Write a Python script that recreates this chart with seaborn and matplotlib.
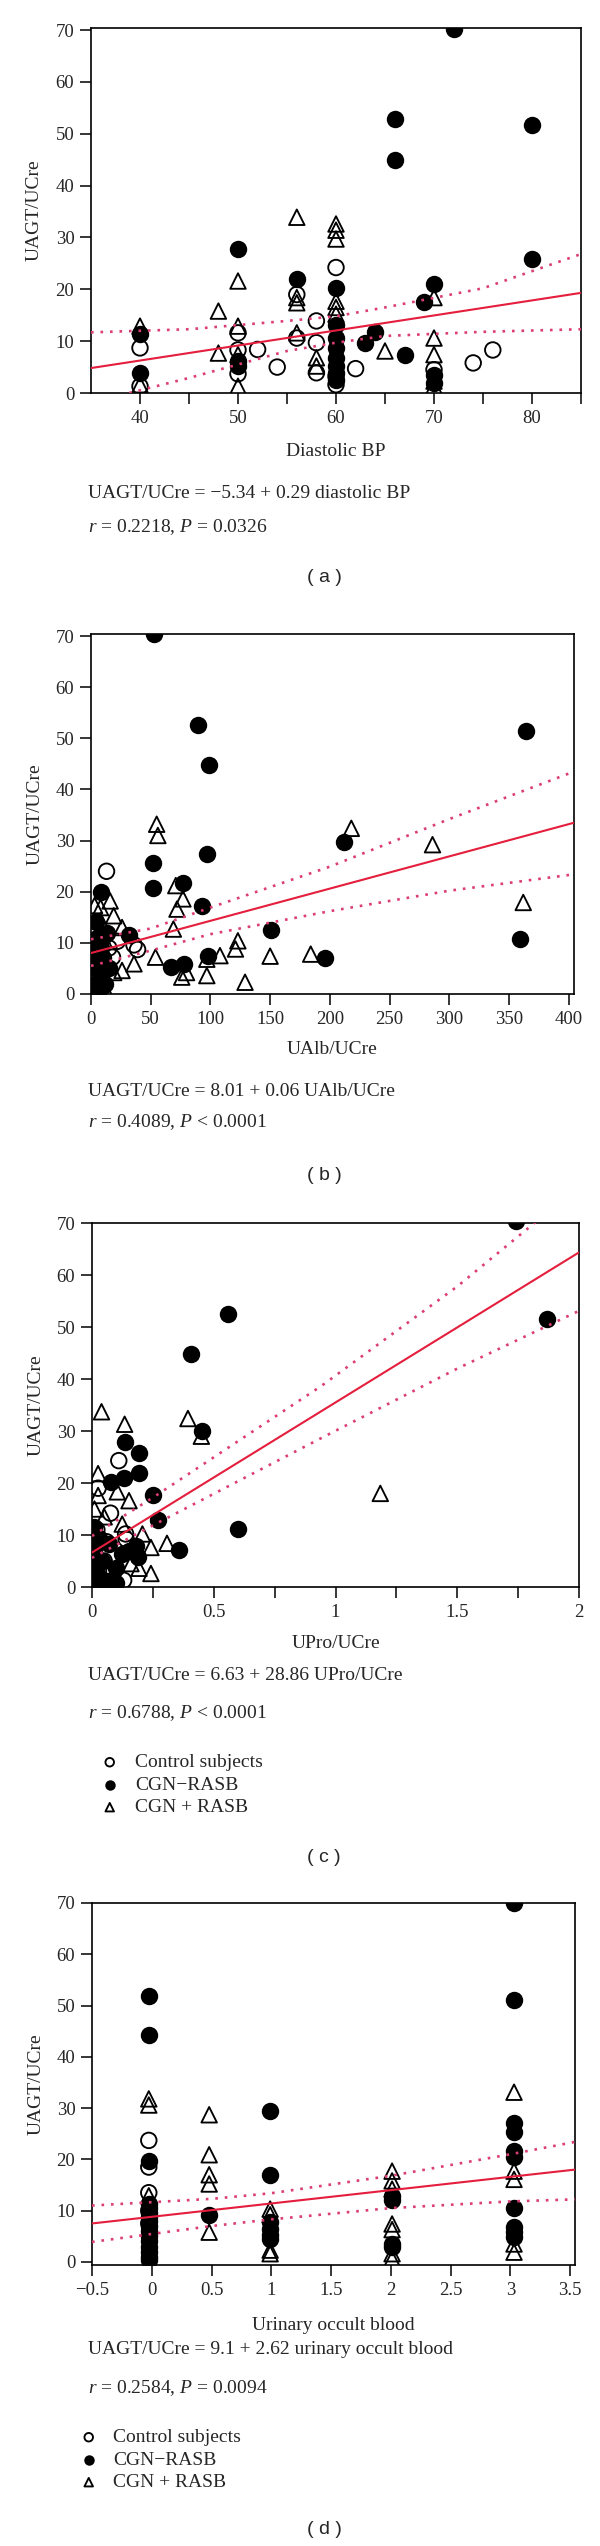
import numpy as np
import pandas as pd
import seaborn as sns
import matplotlib.pyplot as plt

# ---------------- data ----------------
GROUPS = ["Control subjects", "CGN\u2212RASB", "CGN + RASB"]

# (a) diastolic BP
a_ctrl_x = [40, 40, 50, 50, 50, 52, 54, 56, 56, 58, 58, 58, 60, 60, 60, 62, 70, 74, 76]
a_ctrl_y = [8.7, 1.3, 11.6, 8.3, 3.7, 8.4, 5.0, 19.0, 10.6, 13.9, 9.7, 3.9, 24.2, 3.2, 1.6, 4.7, 4.5, 5.8, 8.3]
a_minus_x = [72, 66, 66, 80, 80, 50, 56, 60, 70, 69, 64, 63, 67, 40, 40, 50, 50,
             60, 60, 60, 60, 60, 60, 60, 70, 70]
a_minus_y = [70.3, 52.8, 45.0, 51.7, 25.9, 27.8, 22.0, 20.2, 21.0, 17.5, 11.8, 9.6, 7.3, 11.3, 3.8, 6.1, 5.2,
             13.1, 10.6, 8.7, 6.8, 5.2, 3.8, 2.5, 3.5, 2.0]
a_plus_x = [56, 60, 60, 60, 50, 48, 48, 40, 50, 50, 50, 56, 56, 56, 58, 58, 60, 60, 60, 65,
            70, 70, 70, 70, 70, 40]
a_plus_y = [33.9, 32.6, 31.4, 29.7, 21.6, 15.8, 7.7, 12.9, 12.9, 7.4, 1.3, 18.4, 17.4, 11.6, 6.8, 5.2,
            17.7, 16.5, 15.2, 8.1, 18.4, 10.6, 7.4, 2.3, 1.3, 1.6]
a_fit = (-5.34, 0.29)
a_ci_up_x = [35, 45, 55, 60, 65, 75, 85]
a_ci_up_y = [11.7, 12.3, 13.9, 14.8, 16.5, 20.2, 26.8]
a_ci_lo_x = [38.9, 45, 50, 55, 60, 65, 75, 85]
a_ci_lo_y = [0.0, 2.9, 5.5, 8.1, 9.7, 11.0, 11.8, 12.3]

# (b) UAlb/UCre
b_ctrl_x = [13, 12, 8, 15, 22, 36, 39, 5, 9, 11, 3, 18]
b_ctrl_y = [24.0, 11.5, 10.0, 9.0, 10.3, 9.6, 8.7, 3.0, 1.0, 6.0, 12.5, 7.2]
b_minus_x = [53, 90, 99, 364, 97, 52, 52, 77, 93, 212, 151, 359, 196, 98, 67, 78, 8, 32,
             5, 8, 10, 4, 7, 12, 3, 6, 15, 2, 4, 13]
b_minus_y = [70.4, 52.7, 44.8, 51.5, 27.4, 25.6, 20.7, 21.7, 17.3, 29.8, 12.6, 10.8, 7.0, 7.4, 5.2, 5.8, 20.0, 11.5,
             11.0, 9.0, 7.0, 5.0, 3.0, 2.0, 1.0, 0.4, 5.0, 8.0, 14.0, 12.0]
b_plus_x = [55, 56, 71, 77, 72, 69, 218, 286, 362, 54, 97, 76, 80, 108, 123, 121, 129, 150, 184, 97,
            36, 26, 16, 8, 19, 8, 3, 26, 10, 19, 11, 3]
b_plus_y = [33.2, 31.0, 21.2, 18.6, 16.6, 12.7, 32.4, 29.2, 17.9, 7.2, 3.6, 3.3, 4.2, 7.5, 10.4, 8.8, 2.3, 7.4, 7.8, 6.8,
            5.9, 4.6, 18.2, 16.9, 15.3, 14.3, 17.3, 13.0, 8.8, 4.2, 1.3, 6.8]
b_fit = (8.01, 0.063)
b_ci_up_x = [0, 50, 100, 200, 300, 404.5]
b_ci_up_y = [10.7, 12.8, 16.9, 24.9, 34.2, 43.5]
b_ci_lo_x = [0, 50, 100, 200, 300, 404.5]
b_ci_lo_y = [5.5, 8.5, 11.7, 16.2, 20.2, 23.4]

# (c) UPro/UCre
c_ctrl_x = [0.11, 0.025, 0.076, 0.138, 0.13, 0.06, 0.14, 0.02, 0.05, 0.09, 0.03]
c_ctrl_y = [24.3, 19.0, 14.2, 10.2, 1.3, 8.7, 9.2, 11.0, 5.0, 3.0, 1.5]
c_minus_x = [1.74, 0.559, 0.407, 1.869, 0.451, 0.601, 0.356, 0.273, 0.249, 0.135, 0.193, 0.193, 0.131, 0.076,
             0.007, 0.028, 0.069, 0.152, 0.19, 0.04, 0.097, 0.02, 0.06, 0.124, 0.18, 0.01, 0.03, 0.1, 0.015]
c_minus_y = [70.4, 52.5, 44.8, 51.5, 30.0, 11.2, 7.2, 12.9, 17.6, 27.8, 25.8, 21.9, 21.0, 20.2,
             11.5, 9.5, 8.3, 7.0, 5.7, 5.0, 3.7, 2.5, 1.2, 6.3, 7.9, 7.0, 0.5, 0.8, 4.0]
c_plus_x = [0.039, 0.134, 0.394, 0.449, 1.184, 0.025, 0.025, 0.104, 0.152, 0.124, 0.207, 0.308, 0.242,
            0.242, 0.193, 0.01, 0.05, 0.16]
c_plus_y = [33.7, 31.3, 32.4, 29.0, 18.0, 21.8, 17.6, 18.3, 16.6, 12.1, 10.2, 8.4, 7.6,
            2.6, 3.6, 15.0, 13.5, 4.5]
c_fit = (6.63, 28.86)
c_ci_up_x = [0, 0.26, 0.94, 1.5, 1.83]
c_ci_up_y = [9.8, 17.5, 38.6, 57.8, 70.5]
c_ci_lo_x = [0, 0.26, 0.94, 1.5, 2.0]
c_ci_lo_y = [5.6, 12.1, 28.6, 42.0, 53.1]

# (d) urinary occult blood
d_ctrl_x = [-0.025, -0.025, -0.025, -0.025, -0.025]
d_ctrl_y = [23.7, 18.5, 13.5, 10.0, 7.5]
d_minus_x = [-0.025] * 16 + [0.48] + [0.99] * 6 + [2.01] * 4 + [3.03] * 10
d_minus_y = [51.9, 44.2, 19.7, 11.3, 10.5, 9.6, 8.8, 8.0, 7.0, 6.0, 5.0, 4.0, 3.0, 2.0, 1.0, 0.3,
             9.1,
             29.4, 16.9, 7.8, 6.5, 5.2, 4.4,
             12.9, 12.1, 3.5, 3.0,
             70.0, 51.0, 27.1, 25.4, 21.6, 20.5, 10.6, 6.8, 5.8, 4.8]
d_plus_x = [-0.025] * 3 + [0.48] * 5 + [0.99] * 4 + [2.01] * 7 + [3.03] * 5
d_plus_y = [31.8, 30.6, 12.9,
            28.7, 20.9, 17.0, 15.2, 5.8,
            10.3, 9.2, 2.3, 1.6,
            17.7, 15.8, 14.2, 7.4, 6.3, 1.6, 0.6,
            33.1, 17.7, 16.1, 3.5, 1.9]
d_fit = (8.8, 2.6)
d_ci_up_x = [-0.5, 0.5, 1.0, 2.0, 3.0, 3.54]
d_ci_up_y = [11.0, 12.3, 13.4, 16.8, 21.0, 23.4]
d_ci_lo_x = [-0.5, 0.5, 1.0, 2.0, 3.0, 3.54]
d_ci_lo_y = [3.9, 7.0, 8.3, 10.5, 11.8, 12.2]

y_ticks = [0, 10, 20, 30, 40, 50, 60, 70]
a_xticks, a_xlabels, a_minor = [40, 50, 60, 70, 80], ["40", "50", "60", "70", "80"], [45, 55, 65, 75, 85]
b_xticks = [0, 50, 100, 150, 200, 250, 300, 350, 400]
b_xlabels = ["0", "50", "100", "150", "200", "250", "300", "350", "400"]
c_xticks, c_xlabels, c_minor = [0, 0.5, 1, 1.5, 2], ["0", "0.5", "1", "1.5", "2"], [0.25, 0.75, 1.25, 1.75]
d_xticks = [-0.5, 0, 0.5, 1, 1.5, 2, 2.5, 3, 3.5]
d_xlabels = ["\u22120.5", "0", "0.5", "1", "1.5", "2", "2.5", "3", "3.5"]

# ---------------- style ----------------
sns.set_style("ticks")
plt.rcParams["font.family"] = ["Liberation Serif", "DejaVu Serif"]
plt.rcParams["mathtext.fontset"] = "custom"
plt.rcParams["mathtext.rm"] = "Liberation Serif"
plt.rcParams["mathtext.it"] = "Liberation Serif:italic"

W, H = 600, 2546
RED = "#e41e3c"
PINK = "#dc3c78"
FS = 14


def fx(px):
    return px / W


def fy(py):
    return 1 - py / H


def make_df(ctrl, minus, plus):
    frames = []
    for g, (xs, ys) in zip(GROUPS, [ctrl, minus, plus]):
        frames.append(pd.DataFrame({"x": xs, "y": ys, "group": g}))
    return pd.concat(frames, ignore_index=True)


def draw_panel(fig, box, df, xlim, ylim, xticks, xlabels, minor, fit, ci_up, ci_lo, xlabel):
    l, t, r, b = box
    ax = fig.add_axes([fx(l), fy(b), (r - l) / W, (b - t) / H])
    marks = {GROUPS[0]: ("o", "none"), GROUPS[2]: ("^", "none"), GROUPS[1]: ("o", "black")}
    for g in [GROUPS[0], GROUPS[2], GROUPS[1]]:
        sub = df[df["group"] == g]
        m, c = marks[g]
        sns.scatterplot(data=sub, x="x", y="y", marker=m, color=c, edgecolor="black",
                        linewidth=1.35, s=125, ax=ax, label=g, legend=False, zorder=3)
    xx = np.array(xlim)
    ax.plot(xx, fit[0] + fit[1] * xx, color=RED, lw=1.5, zorder=4)
    ax.plot(*ci_up, color=PINK, lw=1.9, ls=(0, (1, 2.6)), zorder=4)
    ax.plot(*ci_lo, color=PINK, lw=1.9, ls=(0, (1, 2.6)), zorder=4)
    ax.set_xlim(xlim)
    ax.set_ylim(ylim)
    ax.set_xticks(xticks)
    ax.set_xticklabels(xlabels)
    if minor:
        ax.set_xticks(minor, minor=True)
    ax.set_yticks(y_ticks)
    ax.tick_params(which="both", direction="out", length=8, width=1.1, color="black",
                   labelsize=13.5, pad=4)
    for s in ax.spines.values():
        s.set_linewidth(1.2)
        s.set_color("black")
    ax.set_xlabel(xlabel, fontsize=FS)
    ax.set_ylabel("UAGT/UCre", fontsize=FS)
    ax.yaxis.set_label_coords(-0.098, 0.5)
    return ax


def add_texts(fig, ax, xlab_px, box, eq, eq_px, rr, rr_px, tag, tag_px):
    l, t, r, b = box
    ax.xaxis.set_label_coords(0.5, -(xlab_px - b) / (b - t))
    ax.xaxis.label.set_va("center")
    fig.text(fx(88), fy(eq_px), eq, fontsize=FS, va="center", ha="left")
    fig.text(fx(88), fy(rr_px), rr, fontsize=FS, va="center", ha="left")
    fig.text(fx(324), fy(tag_px), tag, fontsize=14, va="center", ha="center",
             family=["Liberation Sans", "DejaVu Sans"])


def add_legend(fig, ax, left_px, mid_px, pad):
    h, lab = ax.get_legend_handles_labels()
    order = [lab.index(g) for g in GROUPS]
    fig.legend([h[i] for i in order], [lab[i] for i in order], loc="center left",
               bbox_to_anchor=(fx(left_px), fy(mid_px)), frameon=False, fontsize=FS,
               markerscale=0.55, handlelength=1.0, handletextpad=pad, labelspacing=0.25,
               borderpad=0, borderaxespad=0)


fig = plt.figure(figsize=(6, 25.46), dpi=100)

box_a = (91, 28, 581, 393)
ax = draw_panel(fig, box_a, make_df((a_ctrl_x, a_ctrl_y), (a_minus_x, a_minus_y), (a_plus_x, a_plus_y)),
                (35, 85), (0, 70.4), a_xticks, a_xlabels, a_minor, a_fit,
                (a_ci_up_x, a_ci_up_y), (a_ci_lo_x, a_ci_lo_y), "Diastolic BP")
add_texts(fig, ax, 451, box_a, "UAGT/UCre = \u22125.34 + 0.29 diastolic BP", 494,
          "$r$ = 0.2218, $P$ = 0.0326", 527, "( a )", 578)

box_b = (91, 634, 574, 994)
ax = draw_panel(fig, box_b, make_df((b_ctrl_x, b_ctrl_y), (b_minus_x, b_minus_y), (b_plus_x, b_plus_y)),
                (0, 404.5), (0, 70.4), b_xticks, b_xlabels, None, b_fit,
                (b_ci_up_x, b_ci_up_y), (b_ci_lo_x, b_ci_lo_y), "UAlb/UCre")
add_texts(fig, ax, 1050, box_b, "UAGT/UCre = 8.01 + 0.06 UAlb/UCre", 1092,
          "$r$ = 0.4089, $P$ < 0.0001", 1122, "( b )", 1176)

box_c = (92, 1223, 579, 1587)
ax = draw_panel(fig, box_c, make_df((c_ctrl_x, c_ctrl_y), (c_minus_x, c_minus_y), (c_plus_x, c_plus_y)),
                (0, 2.0), (0, 70), c_xticks, c_xlabels, c_minor, c_fit,
                (c_ci_up_x, c_ci_up_y), (c_ci_lo_x, c_ci_lo_y), "UPro/UCre")
add_texts(fig, ax, 1643, box_c, "UAGT/UCre = 6.63 + 28.86 UPro/UCre", 1675,
          "$r$ = 0.6788, $P$ < 0.0001", 1713, "( c )", 1857)
add_legend(fig, ax, 100, 1785, 0.79)

box_d = (92, 1903, 575, 2265)
ax = draw_panel(fig, box_d, make_df((d_ctrl_x, d_ctrl_y), (d_minus_x, d_minus_y), (d_plus_x, d_plus_y)),
                (-0.5, 3.54), (-0.6, 70), d_xticks, d_xlabels, None, d_fit,
                (d_ci_up_x, d_ci_up_y), (d_ci_lo_x, d_ci_lo_y), "Urinary occult blood")
add_texts(fig, ax, 2325, box_d, "UAGT/UCre = 9.1 + 2.62 urinary occult blood", 2350,
          "$r$ = 0.2584, $P$ = 0.0094", 2388, "( d )", 2530)
add_legend(fig, ax, 79, 2460, 0.74)

fig.savefig("out.png", dpi=100)
